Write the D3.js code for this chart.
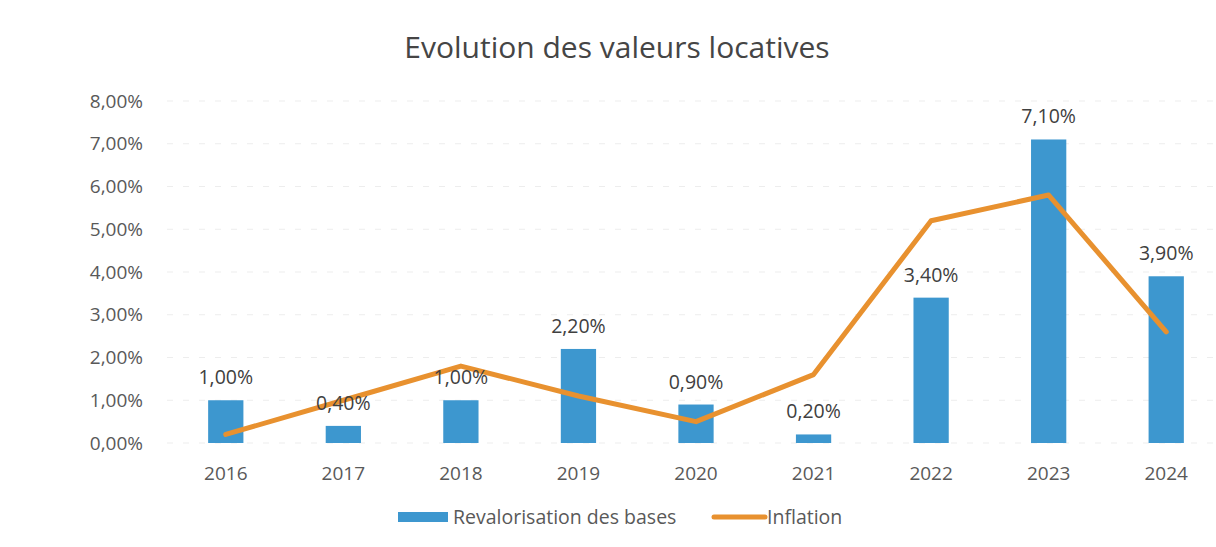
<!DOCTYPE html>
<html>
<head>
<meta charset="utf-8">
<script src="https://cdn.jsdelivr.net/npm/d3@7"></script>
<style>
  body { margin: 0; background: #fff; }
  svg { display: block; font-family: "Open Sans", "Noto Sans", sans-serif; }
</style>
</head>
<body>
<div id="chart"></div>
<script>
const years = ['2016', '2017', '2018', '2019', '2020', '2021', '2022', '2023', '2024'];
const revalorisation = [1.0, 0.4, 1.0, 2.2, 0.9, 0.2, 3.4, 7.1, 3.9];
const inflation = [0.2, 1.0, 1.8, 1.1, 0.5, 1.6, 5.2, 5.8, 2.6];
const yTicks = [0, 1, 2, 3, 4, 5, 6, 7, 8];

const width = 1216, height = 547;
const margin = {top: 101, right: -9, bottom: 104, left: 167};

const fmt = v => d3.format('.2f')(v).replace('.', ',') + '%';

const svg = d3.select('#chart')
    .append('svg')
    .attr('width', width)
    .attr('height', height);

const x = d3.scaleBand()
    .domain(years)
    .range([margin.left, width - margin.right])
    .paddingInner(0.7)
    .paddingOuter(0.35);

const y = d3.scaleLinear()
    .domain([0, 8])
    .range([height - margin.bottom, margin.top]);

// Title
svg.append('text')
    .attr('x', 617)
    .attr('y', 58)
    .attr('text-anchor', 'middle')
    .attr('font-size', '30px')
    .attr('fill', '#454545')
    .text('Evolution des valeurs locatives');

// Grid lines
svg.append('g')
    .selectAll('line')
    .data(yTicks)
    .enter()
    .append('line')
    .attr('x1', margin.left)
    .attr('x2', width)
    .attr('y1', d => y(d))
    .attr('y2', d => y(d))
    .attr('stroke', '#ededed')
    .attr('stroke-dasharray', '6,10')
    .attr('stroke-width', 1);

// Y axis
svg.append('g')
    .attr('transform', `translate(${margin.left - 21},0)`)
    .call(d3.axisLeft(y).tickValues(yTicks).tickFormat(fmt).tickSize(0))
    .call(g => g.select('.domain').remove())
    .call(g => g.selectAll('text')
        .attr('font-size', '19px')
        .attr('fill', '#595959')
        .attr('font-family', '"Open Sans", sans-serif'));

// X axis
svg.append('g')
    .attr('transform', `translate(0,${height - margin.bottom})`)
    .call(d3.axisBottom(x).tickSize(0).tickPadding(24))
    .call(g => g.select('.domain').remove())
    .call(g => g.selectAll('text')
        .attr('font-size', '19px')
        .attr('fill', '#595959')
        .attr('font-family', '"Open Sans", sans-serif'));

// Bars
svg.append('g')
    .selectAll('rect')
    .data(years)
    .enter()
    .append('rect')
    .attr('x', d => x(d))
    .attr('width', x.bandwidth())
    .attr('y', (d, i) => y(revalorisation[i]))
    .attr('height', (d, i) => y(0) - y(revalorisation[i]))
    .attr('fill', '#3d97cf');

// Inflation line
const line = d3.line()
    .x((d, i) => x(years[i]) + x.bandwidth() / 2)
    .y(d => y(d));

svg.append('path')
    .datum(inflation)
    .attr('fill', 'none')
    .attr('stroke', '#e8912f')
    .attr('stroke-width', 5)
    .attr('stroke-linejoin', 'round')
    .attr('stroke-linecap', 'round')
    .attr('d', line);

// Bar labels
svg.append('g')
    .selectAll('text')
    .data(years)
    .enter()
    .append('text')
    .attr('x', d => x(d) + x.bandwidth() / 2)
    .attr('y', (d, i) => y(revalorisation[i]) - 16)
    .attr('text-anchor', 'middle')
    .attr('font-size', '19.5px')
    .attr('fill', '#404040')
    .text((d, i) => fmt(revalorisation[i]));

// Legend
const legend = svg.append('g').attr('transform', 'translate(398,517)');
legend.append('rect')
    .attr('x', 0).attr('y', -5)
    .attr('width', 50).attr('height', 10)
    .attr('fill', '#3d97cf');
legend.append('text')
    .attr('x', 55).attr('y', 7)
    .attr('font-size', '19.5px')
    .attr('fill', '#595959')
    .text('Revalorisation des bases');
legend.append('line')
    .attr('x1', 316).attr('x2', 367)
    .attr('y1', 0).attr('y2', 0)
    .attr('stroke', '#e8912f')
    .attr('stroke-width', 5)
    .attr('stroke-linecap', 'round');
legend.append('text')
    .attr('x', 369).attr('y', 7)
    .attr('font-size', '19.5px')
    .attr('fill', '#595959')
    .text('Inflation');
</script>
</body>
</html>
